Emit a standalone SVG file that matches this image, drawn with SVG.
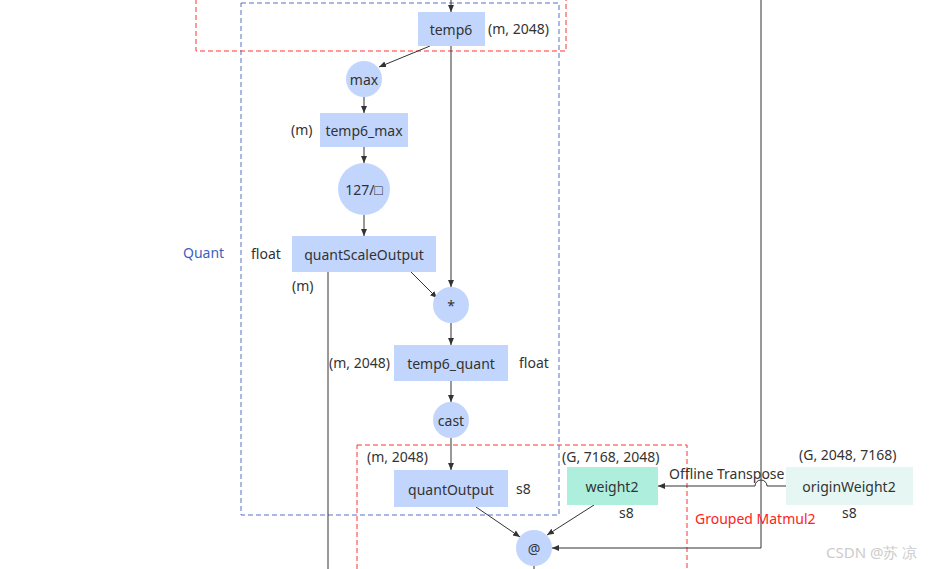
<svg xmlns="http://www.w3.org/2000/svg" width="935" height="569" viewBox="0 0 935 569">
<style>
text{font-family:"Noto Sans","Open Sans",sans-serif;font-size:14px;fill:#333}
.c{text-anchor:middle;dominant-baseline:central}
.n{fill:#c2d6fd}
.e{stroke:#333;stroke-width:1;fill:none}
.a{marker-end:url(#ar)}
</style>
<defs><marker id="ar" markerWidth="8" markerHeight="8" refX="7" refY="4" orient="auto" markerUnits="userSpaceOnUse"><path d="M0,1 L7,4 L0,7z" fill="#333"/></marker></defs>
<rect width="935" height="569" fill="#fff"/>
<g id="groups" fill="none" stroke-dasharray="5,3">
<rect x="196" y="-10" width="370" height="61" stroke="#f33"/>
<rect x="241" y="3" width="318" height="512" stroke="#5470c6"/>
<rect x="357" y="445" width="330" height="140" stroke="#f33"/>
</g>
<g id="connectors">
<path class="e a" d="M451,0 V12"/>
<path class="e a" d="M430,46 L379,67"/>
<path class="e a" d="M364,97 V113"/>
<path class="e a" d="M364,147 V163"/>
<path class="e a" d="M364,215 V236"/>
<path class="e a" d="M451,46 V287"/>
<path class="e a" d="M411,272 L437,298"/>
<path class="e" d="M328,272 V569"/>
<path class="e a" d="M451,323 V345"/>
<path class="e a" d="M451,381 V402"/>
<path class="e a" d="M451,438 V470"/>
<path class="e a" d="M476,507 L520,537"/>
<path class="e a" d="M594,505 L547,535"/>
<path class="e" d="M534,566 V569"/>
<path class="e a" d="M761,0 V548 H552"/>
<path class="e a" d="M786,486 H767 A6,6 0 0 0 755,486 H658"/>
</g>
<g id="temp6"><rect class="n" x="418" y="12" width="67" height="34"/><text class="c" x="451" y="29">temp6</text><text x="488" y="34">(m, 2048)</text></g>
<g id="max"><circle class="n" cx="364" cy="79" r="18"/><text class="c" x="364" y="79">max</text></g>
<g id="temp6_max"><rect class="n" x="320" y="113" width="88" height="34"/><text class="c" x="364" y="130">temp6_max</text><text x="291" y="135">(m)</text></g>
<g id="div"><circle class="n" cx="364" cy="189" r="26"/><text class="c" x="364" y="189">127/□</text></g>
<g id="quantScaleOutput"><rect class="n" x="292" y="236" width="144" height="36"/><text class="c" x="364" y="254">quantScaleOutput</text><text x="251" y="259">float</text><text x="292" y="291">(m)</text><text x="183" y="258" style="fill:#3f5fbf">Quant</text></g>
<g id="mul"><circle class="n" cx="451" cy="305" r="18"/><text class="c" x="451" y="305">*</text></g>
<g id="temp6_quant"><rect class="n" x="394" y="345" width="114" height="36"/><text class="c" x="451" y="363">temp6_quant</text><text x="329" y="368">(m, 2048)</text><text x="519" y="368">float</text></g>
<g id="cast"><circle class="n" cx="451" cy="420" r="18"/><text class="c" x="451" y="420">cast</text></g>
<g id="quantOutput"><rect class="n" x="394" y="470" width="114" height="37"/><text class="c" x="451" y="489">quantOutput</text><text x="367" y="462">(m, 2048)</text><text x="516" y="494">s8</text></g>
<g id="weight2"><rect x="567" y="467" width="91" height="38" fill="#aeeedd"/><text class="c" x="612" y="486">weight2</text><text x="562" y="462">(G, 7168, 2048)</text><text x="619" y="518">s8</text></g>
<g id="originWeight2"><rect x="786" y="467" width="127" height="38" fill="#e6f7f3"/><text class="c" x="849" y="486">originWeight2</text><text x="799" y="460">(G, 2048, 7168)</text><text x="842" y="518">s8</text></g>
<g id="matmul"><circle class="n" cx="534" cy="548" r="18"/><text class="c" x="534" y="548">@</text></g>
<text x="669" y="479">Offline Transpose</text>
<text x="695" y="524" style="fill:#f22">Grouped Matmul2</text>
<text x="826" y="558" style="fill:#ccc;font-size:15px">CSDN @苏 凉</text>
</svg>
